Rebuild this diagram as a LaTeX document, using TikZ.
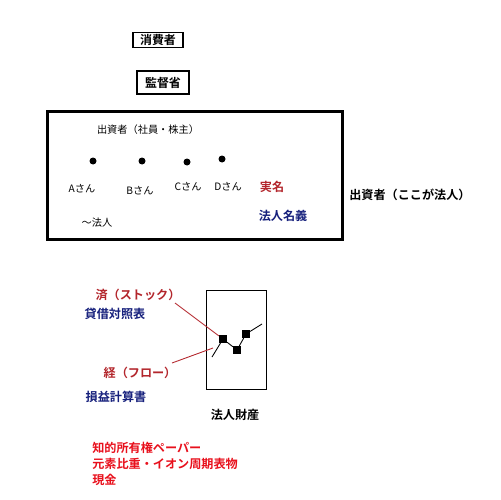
\documentclass[tikz,border=0pt]{standalone}
\usepackage{fontspec}
\setmainfont{Noto Sans CJK JP}[BoldFont={Noto Sans CJK JP Bold}]
\usepackage{tikz}
\usetikzlibrary{calc, positioning}
\definecolor{realred}{HTML}{B3262C}
\definecolor{navyname}{HTML}{16207C}
\definecolor{brightred}{HTML}{E8101C}
\tikzset{
  namebox/.style   = {draw, line width=0.8pt, inner sep=0pt,
                      font=\fontsize{6.8}{7.8}\selectfont\bfseries},
  corpbox/.style   = {draw, line width=1.7pt, inner sep=0pt,
                      minimum width=5.92cm, minimum height=2.58cm},
  assetbox/.style  = {draw, line width=0.5pt, inner sep=0pt,
                      minimum width=1.2cm, minimum height=1.98cm},
  plain/.style     = {font=\fontsize{5.8}{7}\selectfont, inner sep=0pt},
  heavy/.style     = {font=\fontsize{6.9}{7.9}\selectfont\bfseries, inner sep=0pt},
  member/.style    = {circle, fill=black, minimum size=0.14cm, inner sep=0pt},
  tick/.style      = {rectangle, fill=black, minimum size=0.15cm, inner sep=0pt},
  trend/.style     = {line width=0.5pt},
  leader/.style    = {draw=realred, line width=0.5pt},
}

\begin{document}
\begin{tikzpicture}[x=0.02cm, y=-0.02cm]
      \useasboundingbox (0,0) rectangle (500,500);
      \node[namebox, minimum width=1.0cm, minimum height=0.3cm]
        (consumer) at (158,40) {消費者};
      \node[namebox, minimum width=1.04cm, minimum height=0.46cm]
        (regulator) at (163,82.5) {監督省};
      \node[corpbox] (corp) at (195,175.5) {};
      \node[plain] (investors) at (148,130) {出資者（社員・株主）};
      \foreach \n/\x/\y in {a/93/161, b/142/161, c/187/162, d/222/159}
        {\node[member] (dot\n) at (\x,\y) {};}
      \node[plain] (sanA) at (82,189) {Aさん};
      \node[plain] (sanB) at (140,191) {Bさん};
      \node[plain] (sanC) at (188,187) {Cさん};
      \node[plain] (sanD) at (228,187) {Dさん};
      \node[plain] (corpish) at (97,223) {～法人};
      \node[heavy, text=realred] (realname) at (272,187) {実名};
      \node[heavy, text=navyname] (corpname) at (283,216) {法人名義};
      \node[heavy, anchor=west] (corplabel) at (349,195) {出資者（ここが法人）};
      \node[assetbox] (asset) at (236,339.5) {};
      \node[heavy] (assetlabel) at (235,415) {法人財産};
      \coordinate (tstart) at (212,357);
      \node[tick] (s1) at (223,339) {};
      \node[tick] (s2) at (237,350) {};
      \node[tick] (s3) at (246,334) {};
      \coordinate (tend) at (262,324);
      \draw[trend] (tstart) -- (s1) -- (s2) -- (s3) -- (tend);
      \node[heavy, text=realred] (stock) at (138,295) {済（ストック）};
      \node[heavy, text=navyname] (balance) at (115,314) {貸借対照表};
      \node[heavy, text=realred] (flow) at (140,373) {経（フロー）};
      \node[heavy, text=navyname] (income) at (116,397) {損益計算書};
      \coordinate (stocktip) at (175,303);
      \coordinate (flowtip) at (172,363);
      \coordinate (flowend) at (213,348);
      \draw[leader] (stocktip) -- (s1);
      \draw[leader] (flowtip) -- (flowend);
      \node[heavy, text=brightred, anchor=west] (paper) at (92,448) {知的所有権ペーパー};
      \node[heavy, text=brightred, anchor=west] (element) at (92,464) {元素比重・イオン周期表物};
      \node[heavy, text=brightred, anchor=west] (cash) at (92,480) {現金};
    \end{tikzpicture}
\end{document}
